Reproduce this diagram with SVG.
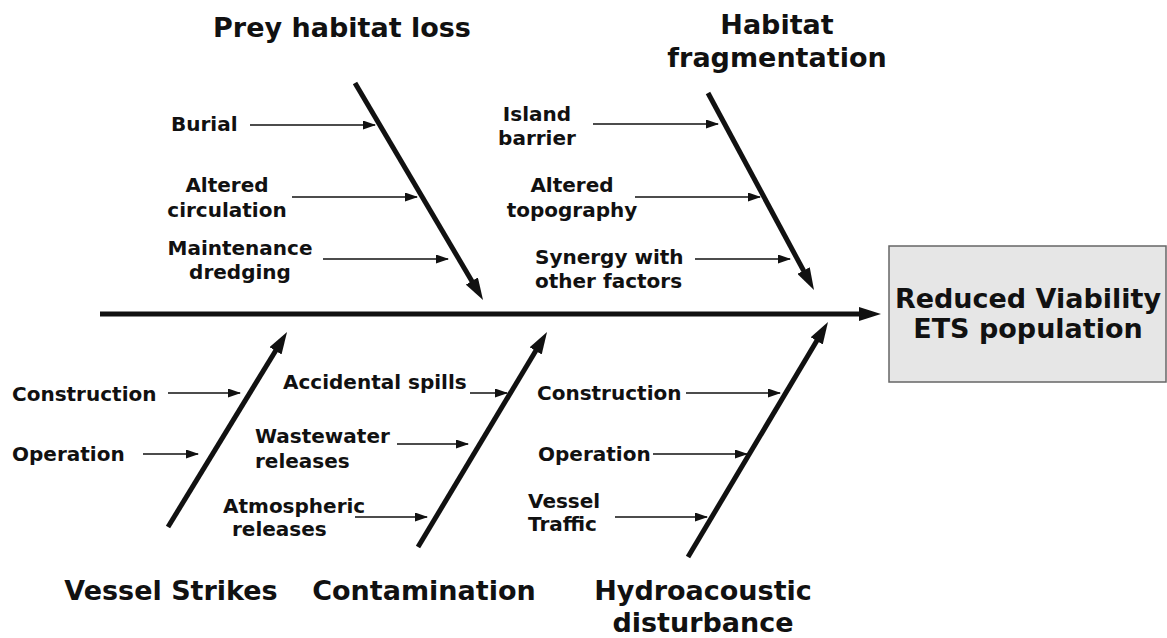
<svg xmlns="http://www.w3.org/2000/svg" width="1167" height="638" viewBox="0 0 1167 638">
<style>
text{font-family:"DejaVu Sans","Verdana","Liberation Sans",sans-serif;font-weight:bold;fill:#111}
.lbl{font-size:20px}
.ttl{font-size:27px}
.mid{text-anchor:middle}
.bone{stroke:#111;stroke-width:5;fill:none;marker-end:url(#big)}
.sm{stroke:#111;stroke-width:1.6;fill:none;marker-end:url(#small)}
</style>
<defs>
<marker id="big" markerUnits="userSpaceOnUse" markerWidth="22" markerHeight="14" viewBox="0 0 22 14" refX="6" refY="7" orient="auto">
<path d="M0,0 L22,7 L0,14 z" fill="#111"/>
</marker>
<marker id="small" markerUnits="userSpaceOnUse" markerWidth="13" markerHeight="9" viewBox="0 0 13 9" refX="12" refY="4.5" orient="auto">
<path d="M0,0 L13,4.5 L0,9 z" fill="#111"/>
</marker>
</defs>
<g id="connectors">
<line class="bone" x1="100" y1="314" x2="865" y2="314"/>
<line class="bone" x1="355" y1="83" x2="474.9" y2="286.2"/>
<line class="bone" x1="708" y1="93" x2="806.4" y2="275.9"/>
<line class="bone" x1="168" y1="527" x2="278.7" y2="345.7"/>
<line class="bone" x1="418" y1="547" x2="538.8" y2="345.7"/>
<line class="bone" x1="688" y1="557" x2="819.8" y2="335.7"/>
<line class="sm" x1="250" y1="125" x2="375" y2="125"/>
<line class="sm" x1="292" y1="197" x2="417" y2="197"/>
<line class="sm" x1="323" y1="259" x2="448" y2="259"/>
<line class="sm" x1="593" y1="124" x2="718" y2="124"/>
<line class="sm" x1="635" y1="197" x2="760" y2="197"/>
<line class="sm" x1="695" y1="259" x2="790" y2="259"/>
<line class="sm" x1="168" y1="393" x2="240" y2="393"/>
<line class="sm" x1="143" y1="454" x2="198" y2="454"/>
<line class="sm" x1="470" y1="393" x2="507" y2="393"/>
<line class="sm" x1="397" y1="444" x2="468" y2="444"/>
<line class="sm" x1="355" y1="517" x2="427" y2="517"/>
<line class="sm" x1="686" y1="393" x2="780" y2="393"/>
<line class="sm" x1="653" y1="454" x2="747" y2="454"/>
<line class="sm" x1="615" y1="517" x2="707" y2="517"/>
</g>
<g id="effect">
<rect x="889" y="246" width="277" height="136" fill="#e6e6e6" stroke="#666" stroke-width="1.5"/>
<text class="ttl mid" x="1028" y="308">Reduced Viability</text>
<text class="ttl mid" x="1028" y="338">ETS population</text>
</g>
<g id="prey-habitat-loss">
<text class="ttl mid" x="342" y="37">Prey habitat loss</text>
<text class="lbl" x="171" y="131">Burial</text>
<text class="lbl mid" x="227" y="192">Altered</text>
<text class="lbl mid" x="227" y="217">circulation</text>
<text class="lbl mid" x="240" y="255">Maintenance</text>
<text class="lbl mid" x="240" y="279">dredging</text>
</g>
<g id="habitat-fragmentation">
<text class="ttl mid" x="777" y="34">Habitat</text>
<text class="ttl mid" x="777" y="67">fragmentation</text>
<text class="lbl mid" x="537" y="121">Island</text>
<text class="lbl mid" x="537" y="145">barrier</text>
<text class="lbl mid" x="572" y="192">Altered</text>
<text class="lbl mid" x="572" y="217">topography</text>
<text class="lbl" x="535" y="264">Synergy with</text>
<text class="lbl" x="535" y="288">other factors</text>
</g>
<g id="vessel-strikes">
<text class="ttl mid" x="171" y="600">Vessel Strikes</text>
<text class="lbl" x="12" y="401">Construction</text>
<text class="lbl" x="12" y="461">Operation</text>
</g>
<g id="contamination">
<text class="ttl mid" x="424" y="600">Contamination</text>
<text class="lbl" x="283" y="389">Accidental spills</text>
<text class="lbl" x="255" y="443">Wastewater</text>
<text class="lbl" x="255" y="468">releases</text>
<text class="lbl" x="223" y="513">Atmospheric</text>
<text class="lbl" x="232" y="536">releases</text>
</g>
<g id="hydroacoustic-disturbance">
<text class="ttl mid" x="703" y="600">Hydroacoustic</text>
<text class="ttl mid" x="703" y="632">disturbance</text>
<text class="lbl" x="537" y="400">Construction</text>
<text class="lbl" x="538" y="461">Operation</text>
<text class="lbl" x="528" y="508">Vessel</text>
<text class="lbl" x="528" y="531">Traffic</text>
</g>
</svg>
